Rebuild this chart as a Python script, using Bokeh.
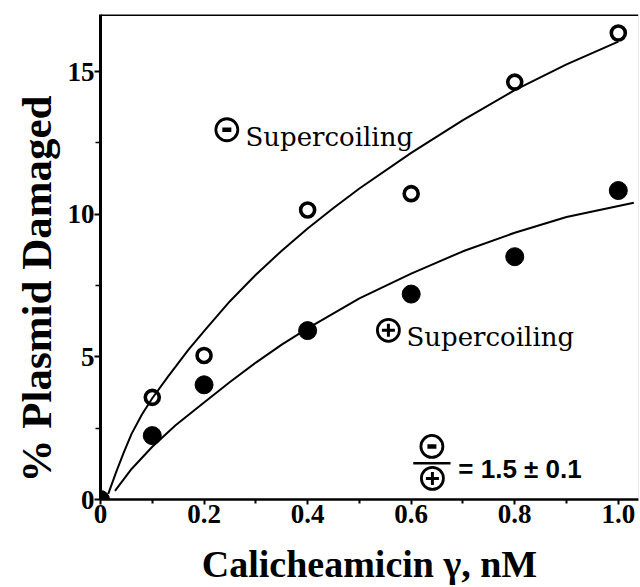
from bokeh.plotting import figure
from bokeh.models import Range1d, Span, FixedTicker, Title
from bokeh.core.properties import value
from bokeh.embed import file_html
from bokeh.resources import INLINE

# ---- data ----
conc = [0.0, 0.1, 0.2, 0.4, 0.6, 0.8, 1.0]                 # Calicheamicin γ, nM
neg_supercoiling = [0.0, 3.58, 5.05, 10.15, 10.72, 14.63, 16.35]   # open circles
pos_supercoiling = [0.0, 2.24, 4.02, 5.92, 7.20, 8.51, 10.83]      # filled circles

# fitted curves
neg_fit_x = [0.015, 0.03, 0.045, 0.06, 0.08, 0.1, 0.13, 0.17, 0.2, 0.25, 0.3, 0.35, 0.4,
             0.45, 0.5, 0.6, 0.7, 0.8, 0.9, 1.0]
neg_fit_y = [0.2, 0.95, 1.65, 2.3, 2.98, 3.55, 4.3, 5.25, 5.9, 6.95, 7.88, 8.72, 9.5,
             10.22, 10.9, 12.15, 13.3, 14.35, 15.25, 16.05]
pos_fit_x = [0.028, 0.06, 0.1, 0.145, 0.2, 0.25, 0.3, 0.35, 0.4, 0.5, 0.6, 0.7, 0.8, 0.9, 1.03]
pos_fit_y = [0.3, 1.07, 1.85, 2.6, 3.4, 4.12, 4.8, 5.43, 6.0, 7.05, 7.92, 8.7, 9.35, 9.9, 10.4]

x_ticks = [0, 0.2, 0.4, 0.6, 0.8, 1.0]
x_tick_labels = ["0", "0.2", "0.4", "0.6", "0.8", "1.0"]
x_minor = [0.1, 0.3, 0.5, 0.7, 0.9]
y_ticks = [0, 5, 10, 15]
y_minor = [2.5, 7.5, 12.5]

x_title = "Calicheamicin γ, nM"
y_title = "% Plasmid Damaged"

X_END = 1.039
Y_END = 17.0

p = figure(width=640, height=587, output_backend="svg", toolbar_location=None,
           x_range=Range1d(0, X_END), y_range=Range1d(0, Y_END),
           min_border_left=100, min_border_right=2, min_border_top=14, min_border_bottom=88)
p.outline_line_color = None
p.xgrid.visible = False
p.ygrid.visible = False
p.background_fill_color = "white"
p.border_fill_color = "white"

SERIF = "Liberation Serif"

for ax in (p.xaxis, p.yaxis):
    ax.axis_line_color = "black"
    ax.major_tick_line_color = "black"
    ax.minor_tick_line_color = "black"
    ax.major_tick_in = 0
    ax.minor_tick_in = 0
    ax.major_label_standoff = 0
    ax.major_label_text_font = SERIF
    ax.major_label_text_font_style = "bold"
    ax.major_label_text_font_size = "27px"
    ax.major_label_text_color = "black"
    ax.axis_label_text_font = SERIF
    ax.axis_label_text_font_style = "bold"
    ax.axis_label_text_color = "black"

# x axis
p.xaxis.ticker = FixedTicker(ticks=x_ticks, minor_ticks=x_minor)
p.xaxis.major_label_overrides = {float(t): lab for t, lab in zip(x_ticks, x_tick_labels)}
p.xaxis.axis_line_width = 2.5
p.xaxis.major_tick_out = 5
p.xaxis.minor_tick_out = 4
p.xaxis.major_tick_line_width = 2
p.xaxis.minor_tick_line_width = 2
p.xaxis.axis_label = x_title
p.xaxis.axis_label_text_font_size = "38px"
p.xaxis.axis_label_standoff = 17

# y axis
p.yaxis.ticker = FixedTicker(ticks=y_ticks, minor_ticks=y_minor)
p.yaxis.axis_line_width = 3
p.yaxis.major_tick_out = 6
p.yaxis.minor_tick_out = 5
p.yaxis.major_tick_line_width = 2
p.yaxis.minor_tick_line_width = 1.5

# y title: a side title, aligned to the lower end like the original
p.add_layout(Title(text=y_title, align="left", offset=17, standoff=10,
                   text_font=SERIF, text_font_style="bold", text_font_size="43px",
                   text_color="black"), "left")

# frame top / right border
p.add_layout(Span(location=Y_END, dimension="width", line_color="black", line_width=3))
p.add_layout(Span(location=X_END, dimension="height", line_color="#d8d8d8", line_width=1))

# fitted curves
p.line(neg_fit_x, neg_fit_y, line_color="black", line_width=2)
p.line(pos_fit_x, pos_fit_y, line_color="black", line_width=2)

# data points
p.scatter(conc, pos_supercoiling, marker="circle", size=18,
          fill_color="black", line_color="black")
p.scatter(conc, neg_supercoiling, marker="circle", size=14,
          fill_color=None, line_color="black", line_width=3.6)

# annotations: circled minus / plus labels
ann_font = value("DejaVu Serif")
p.text(x=[0.28, 0.591], y=[12.72, 5.71], text=["Supercoiling", "Supercoiling"],
       text_font=ann_font, text_font_size="26px", text_color="black",
       text_baseline="alphabetic", text_align="left")

circ_x = [0.244, 0.556, 0.640, 0.641]
circ_y = [12.96, 5.93, 1.86, 0.74]
p.scatter(circ_x, circ_y, marker="circle", size=22, fill_color=None,
          line_color="black", line_width=2.8)
p.scatter([0.244, 0.640], [12.96, 1.86], marker="dash", size=9,
          line_color="black", line_width=4.5)
p.scatter([0.556, 0.641], [5.93, 0.74], marker="cross", size=13,
          line_color="black", line_width=3)

# ratio fraction
p.segment(x0=[0.604], y0=[1.27], x1=[0.676], y1=[1.27], line_color="black", line_width=2.5)
p.text(x=[0.691], y=[1.08], text=["= 1.5 ± 0.1"], text_font=value("Liberation Sans"),
       text_font_style="bold", text_font_size="26px", text_color="black",
       text_baseline="alphabetic", text_align="left")

open("out.html", "w").write(file_html(p, INLINE))
